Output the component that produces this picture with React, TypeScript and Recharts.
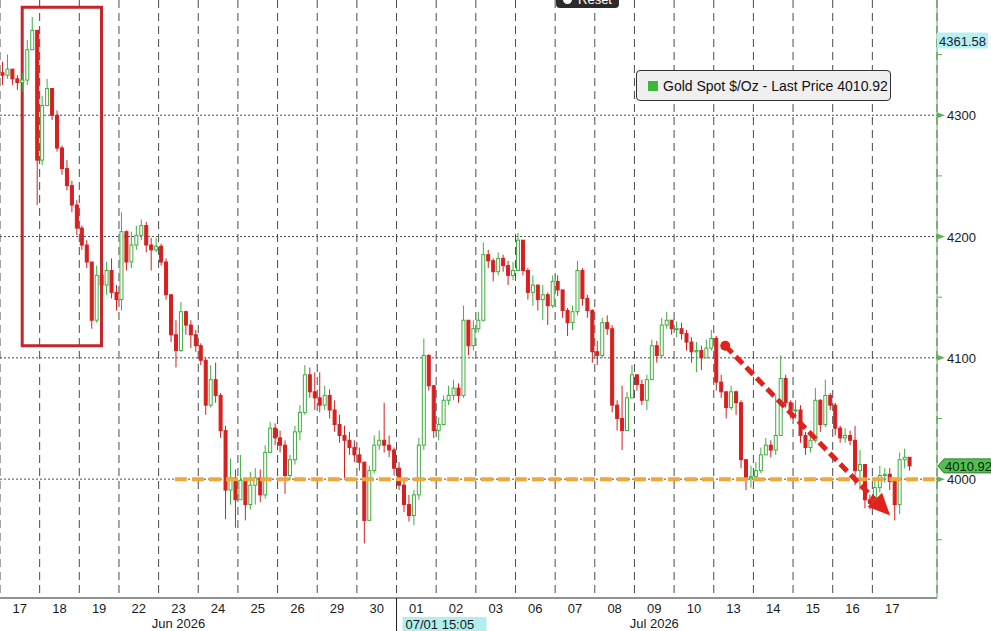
import { ComposedChart, Bar, XAxis, YAxis, CartesianGrid, ReferenceLine, ReferenceArea } from 'recharts';

// Gold spot, intraday candles (8 per trading day), 17 Jun - 17 Jul 2026
const dayLabels = ['17', '18', '19', '22', '23', '24', '25', '26', '29', '30', '01', '02', '03', '06', '07', '08', '09', '10', '13', '14', '15', '16', '17'];
const monthLabels: Record<number, string> = { 4: 'Jun 2026', 16: 'Jul 2026' };
const PER_DAY = 8;

const firstOpen = 4335;
const closes = [
  4333, 4338, 4330, 4327, 4329, 4354, 4370, 4263,
  4308, 4322, 4300, 4273, 4256, 4242, 4226, 4207,
  4193, 4179, 4131, 4168, 4160, 4172, 4154, 4148,
  4204, 4179, 4193, 4201, 4209, 4193, 4189, 4192,
  4179, 4152, 4119, 4106, 4138, 4127, 4119, 4110,
  4098, 4061, 4082, 4069, 4040, 3991, 4001, 3983,
  3999, 3979, 3995, 4001, 3987, 4022, 4042, 4034,
  4028, 4003, 4016, 4039, 4055, 4086, 4072, 4067,
  4061, 4069, 4057, 4045, 4036, 4032, 4026, 4020,
  4014, 3966, 4007, 4028, 4032, 4028, 4024, 4009,
  3995, 3979, 3970, 3987, 4028, 4102, 4077, 4040,
  4045, 4065, 4069, 4075, 4069, 4131, 4110, 4124,
  4131, 4185, 4180, 4171, 4182, 4176, 4168, 4172,
  4197, 4172, 4154, 4160, 4148, 4152, 4143, 4163,
  4156, 4139, 4129, 4138, 4172, 4149, 4139, 4105,
  4102, 4129, 4124, 4061, 4050, 4040, 4067, 4086,
  4078, 4065, 4082, 4110, 4102, 4127, 4131, 4124,
  4124, 4120, 4113, 4105, 4106, 4100, 4108, 4116,
  4080, 4072, 4059, 4072, 4063, 4016, 4001, 4002,
  4007, 4020, 4028, 4024, 4036, 4083, 4063, 4057,
  4057, 4036, 4026, 4032, 4065, 4045, 4069, 4061,
  4042, 4034, 4036, 4032, 4007, 4012, 3983, 3980,
  3993, 4003, 4004, 3998, 3979, 4016, 4018, 4010.92,
];
const highs = [
  4344, 4350, 4337, 4333, 4335, 4362, 4381, 4370,
  4316, 4330, 4322, 4304, 4275, 4263, 4246, 4230,
  4209, 4197, 4179, 4176, 4179, 4179, 4182, 4160,
  4220, 4205, 4204, 4209, 4214, 4212, 4199, 4199,
  4194, 4182, 4148, 4131, 4146, 4139, 4131, 4123,
  4112, 4100, 4094, 4096, 4071, 4044, 4017, 4008,
  4020, 4001, 4006, 4009, 4008, 4028, 4047, 4046,
  4040, 4032, 4020, 4044, 4061, 4094, 4092, 4088,
  4088, 4077, 4074, 4065, 4053, 4044, 4039, 4032,
  4026, 4011, 4011, 4036, 4040, 4063, 4036, 4026,
  4014, 3999, 3987, 3991, 4034, 4116, 4103, 4077,
  4051, 4069, 4077, 4082, 4079, 4143, 4131, 4131,
  4138, 4195, 4189, 4182, 4187, 4185, 4180, 4179,
  4203, 4195, 4174, 4168, 4160, 4160, 4154, 4168,
  4168, 4152, 4141, 4143, 4180, 4174, 4152, 4140,
  4114, 4133, 4135, 4127, 4065, 4077, 4072, 4094,
  4086, 4082, 4086, 4115, 4114, 4133, 4138, 4131,
  4130, 4129, 4123, 4117, 4113, 4110, 4115, 4123,
  4118, 4086, 4072, 4077, 4073, 4065, 4014, 4011,
  4014, 4026, 4034, 4032, 4069, 4102, 4086, 4065,
  4065, 4061, 4039, 4036, 4075, 4066, 4082, 4071,
  4063, 4044, 4042, 4040, 4044, 4024, 4012, 3987,
  4001, 4011, 4009, 4009, 4001, 4022, 4025, 4018,
];
const lows = [
  4325, 4330, 4325, 4321, 4319, 4325, 4354, 4226,
  4259, 4308, 4296, 4270, 4251, 4238, 4220, 4201,
  4189, 4174, 4124, 4129, 4156, 4152, 4149, 4139,
  4139, 4172, 4174, 4189, 4197, 4187, 4172, 4187,
  4176, 4148, 4113, 4092, 4105, 4119, 4108, 4105,
  4094, 4053, 4059, 4063, 4034, 3967, 3979, 3960,
  3984, 3966, 3975, 3979, 3981, 3984, 4025, 4028,
  4022, 3988, 3999, 4012, 4032, 4053, 4067, 4057,
  4055, 4057, 4050, 4039, 4030, 4001, 4020, 4014,
  4007, 3947, 3966, 4005, 4024, 4022, 4018, 4003,
  3991, 3973, 3965, 3962, 3983, 4024, 4073, 4034,
  4032, 4045, 4061, 4065, 4063, 4067, 4102, 4106,
  4121, 4130, 4174, 4163, 4168, 4171, 4160, 4164,
  4172, 4168, 4148, 4143, 4139, 4131, 4127, 4141,
  4151, 4133, 4118, 4123, 4135, 4143, 4133, 4096,
  4094, 4100, 4119, 4055, 4040, 4024, 4047, 4069,
  4073, 4061, 4057, 4084, 4096, 4100, 4124, 4119,
  4117, 4115, 4106, 4096, 4088, 4090, 4102, 4106,
  4073, 4067, 4050, 4057, 4053, 4009, 3991, 3993,
  4001, 4005, 4020, 4018, 4020, 4061, 4059, 4050,
  4050, 4030, 4020, 4022, 4030, 4039, 4043, 4057,
  4036, 4030, 4030, 4028, 3995, 3991, 3976, 3975,
  3979, 3989, 3997, 3991, 3966, 3971, 4009, 4007,
];
const periodHigh = 4361.58;
const lastPrice = closes[closes.length - 1];

const data = closes.map((close, i) => {
  const open = i === 0 ? firstOpen : closes[i - 1];
  return { t: (i + 0.5) / PER_DAY, open, close, high: highs[i], low: lows[i], range: [lows[i], highs[i]] };
});

const W = 991;
const H = 631;
const X_MAX = 23.63;
const DAY_PX = 937 / X_MAX;
const GREEN = '#3fae3f';
const RED = '#d81f1f';
const ANN_RED = '#e1221c';
const AXIS_GREEN = '#5bb45b';
const FONT = '"Liberation Sans", Arial, sans-serif';

function Candle(props: any) {
  const { x, y, width, height, payload } = props;
  if (!payload) return null;
  const { open, close, high, low } = payload;
  const top = Math.min(y, y + height);
  const h = Math.abs(height);
  const ppu = high === low ? 0 : h / (high - low);
  const cx = x + width / 2;
  const yo = top + (high - open) * ppu;
  const yc = top + (high - close) * ppu;
  const up = close >= open;
  const color = up ? GREEN : RED;
  const bTop = Math.min(yo, yc);
  const bH = Math.max(1, Math.abs(yc - yo));
  return (
    <g>
      <line x1={cx} x2={cx} y1={top} y2={top + h} stroke={color} strokeWidth={1} />
      <rect x={cx - 1.5} y={bTop} width={3} height={bH} fill={up ? '#fff' : RED} stroke={color} strokeWidth={1} />
    </g>
  );
}

function DayTick(props: any) {
  const { x, y, payload } = props;
  const i = payload.value as number;
  const cx = x + DAY_PX / 2;
  return (
    <g fontFamily={FONT} fontSize={13} fill="#1a1a1a">
      <text x={cx} y={y + 15} textAnchor="middle">{dayLabels[i]}</text>
      {monthLabels[i] && <text x={cx} y={y + 30} textAnchor="middle">{monthLabels[i]}</text>}
      {i === 10 && (
        <g>
          <line x1={x} x2={x} y1={y} y2={y + 33} stroke="#222" strokeWidth={1} />
          <rect x={x + 6} y={y + 19} width={84} height={16} fill="#b2eeee" />
          <text x={x + 9} y={y + 31}>07/01 15:05</text>
        </g>
      )}
    </g>
  );
}

function PriceTick(props: any) {
  const { x, y, payload } = props;
  const v = payload.value as number;
  if (v === lastPrice) {
    return (
      <g fontFamily={FONT} fontSize={13}>
        <polygon points={`${x + 1},${y} ${x + 7},${y - 7} ${x + 56},${y - 7} ${x + 56},${y + 7} ${x + 7},${y + 7}`} fill="#50c150" stroke="#2d7d2d" strokeWidth={1} />
        <text x={x + 8} y={y + 5} fill="#0d1a0d">{lastPrice.toFixed(2)}</text>
      </g>
    );
  }
  if (v === periodHigh) {
    return (
      <g fontFamily={FONT} fontSize={13}>
        <rect x={x} y={y - 8} width={51} height={16} fill="#b8f0f0" />
        <text x={x + 2} y={y + 5} fill="#123">{periodHigh.toFixed(2)}</text>
      </g>
    );
  }
  if (v % 100 !== 0) {
    return <line x1={x} x2={x + 5} y1={y} y2={y} stroke={AXIS_GREEN} strokeWidth={1} />;
  }
  return (
    <g fontFamily={FONT} fontSize={13}>
      <polygon points={`${x},${y - 3} ${x + 8},${y} ${x},${y + 3}`} fill={AXIS_GREEN} />
      <text x={x + 10} y={y + 5} fill="#1a1a1a">{v}</text>
    </g>
  );
}

function ArrowShape(props: any) {
  const { x1, y1, x2, y2 } = props;
  const dx = x2 - x1;
  const dy = y2 - y1;
  const len = Math.hypot(dx, dy) || 1;
  const ux = dx / len;
  const uy = dy / len;
  const head = 22;
  const half = 10;
  const bx = x2 - ux * head;
  const by = y2 - uy * head;
  return (
    <g>
      <line x1={x1} y1={y1} x2={bx} y2={by} stroke={ANN_RED} strokeWidth={5} strokeDasharray="10 5" />
      <circle cx={x1} cy={y1} r={5} fill={ANN_RED} />
      <polygon points={`${x2},${y2} ${bx - uy * half},${by + ux * half} ${bx + uy * half},${by - ux * half}`} fill={ANN_RED} />
    </g>
  );
}

const dayTicks = dayLabels.map((_, i) => i);
const priceTicks = [3950, 4000, 4050, 4100, 4150, 4200, 4250, 4300, 4350, periodHigh, lastPrice];

export default function App() {
  return (
    <div style={{ position: 'absolute', left: 0, top: 0, width: W, height: H, background: '#fff', overflow: 'hidden', fontFamily: FONT }}>
      <ComposedChart width={W} height={H} data={data} margin={{ top: 0, right: 0, bottom: 0, left: 0 }}>
        <CartesianGrid horizontal={false} stroke="#4a4a4a" strokeDasharray="8 5" />
        <CartesianGrid vertical={false} stroke="#4a4a4a" strokeDasharray="2 2" horizontalValues={[4000, 4100, 4200, 4300]} />
        <XAxis
          dataKey="t"
          type="number"
          domain={[0, X_MAX]}
          allowDataOverflow
          ticks={dayTicks}
          interval={0}
          tick={<DayTick />}
          tickLine={false}
          tickSize={0}
          tickMargin={0}
          axisLine={{ stroke: '#222' }}
          height={33}
        />
        <YAxis
          orientation="right"
          domain={[3902, 4395]}
          allowDataOverflow
          ticks={priceTicks}
          interval={0}
          tick={<PriceTick />}
          tickLine={false}
          tickSize={0}
          tickMargin={0}
          axisLine={{ stroke: AXIS_GREEN }}
          width={54}
        />
        <ReferenceArea x1={0.56} x2={2.56} y1={4110} y2={4389} fill="none" stroke="#c4262c" strokeWidth={3} ifOverflow="visible" />
        <ReferenceLine segment={[{ x: 4.41, y: 4000 }, { x: X_MAX, y: 4000 }]} stroke="#f2a73a" strokeWidth={4} strokeDasharray="12 5" />
        <Bar dataKey="range" barSize={3} shape={<Candle />} isAnimationActive={false} />
        <ReferenceLine segment={[{ x: 18.29, y: 4110 }, { x: 22.45, y: 3970 }]} shape={ArrowShape} />
      </ComposedChart>
      <div style={{ position: 'absolute', left: 556, top: -9, width: 63, height: 17, background: '#2b2b2b', borderRadius: 4, color: '#fff', fontSize: 13, display: 'flex', alignItems: 'center', justifyContent: 'center', gap: 6 }}>
        <span style={{ width: 9, height: 9, borderRadius: '50%', background: '#fff', display: 'inline-block' }} />
        <span>Reset</span>
      </div>
      <div style={{ position: 'absolute', left: 636, top: 70, width: 253, height: 29, border: '1px solid #333', borderRadius: 4, background: '#f0f0f0', display: 'flex', alignItems: 'center', fontSize: 14, color: '#111', whiteSpace: 'nowrap' }}>
        <span style={{ width: 10, height: 10, background: '#3cb83c', marginLeft: 11, marginRight: 5, display: 'inline-block' }} />
        <span>Gold Spot $/Oz - Last Price {lastPrice.toFixed(2)}</span>
      </div>
    </div>
  );
}
